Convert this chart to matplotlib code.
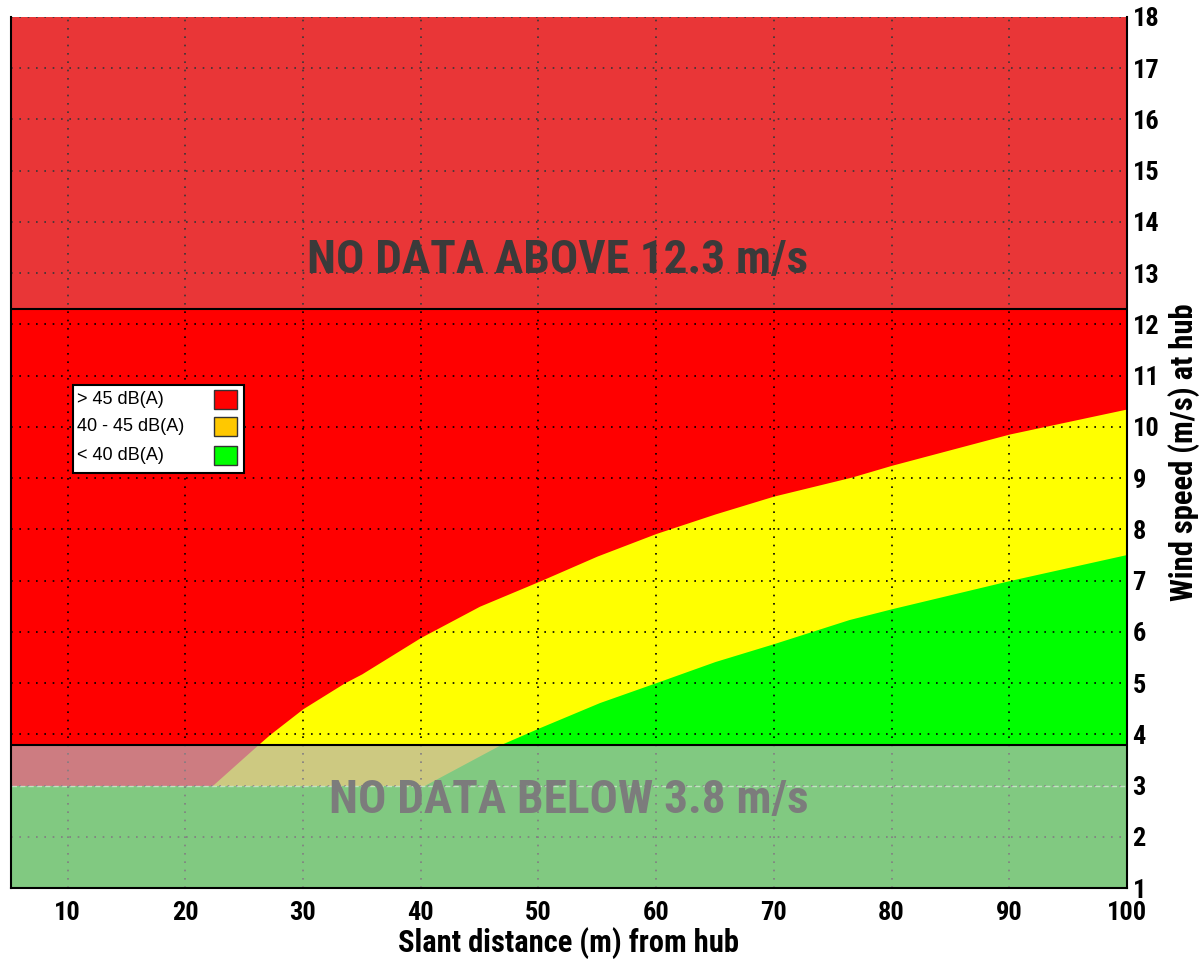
import matplotlib
matplotlib.use('Agg')
import matplotlib.pyplot as plt
from matplotlib import font_manager
from matplotlib.patches import Rectangle

# distance (m) where the > 45 dB(A) zone gives way to 40-45 dB(A), per wind speed
loud_x = [22.3, 26.2, 27.2, 30.0, 33.5, 35.0, 40.0, 45.0, 50.2, 55.0, 60.0, 65.0, 70.0, 76.6, 80.0, 90.0, 100.0]
loud_y = [3.0, 3.8, 4.0, 4.5, 5.0, 5.18, 5.89, 6.5, 7.0, 7.48, 7.92, 8.3, 8.65, 9.02, 9.25, 9.86, 10.35]

# boundary between 40-45 dB(A) and < 40 dB(A)
quiet_x = [40.3, 46.8, 50.0, 55.2, 60.5, 65.0, 70.0, 76.4, 80.0, 90.0, 100.0]
quiet_y = [3.0, 3.8, 4.12, 4.62, 5.05, 5.42, 5.77, 6.24, 6.45, 7.0, 7.51]

calc_floor = 3.0       # below this wind speed everything is under 40 dB(A)
data_min = 3.8         # measured range of the turbine
data_max = 12.3

x_min, x_max = 5.2, 100
y_min, y_max = 1, 18
x_ticks = [10, 20, 30, 40, 50, 60, 70, 80, 90, 100]
y_ticks = list(range(1, 19))

legend_labels = ['> 45 dB(A)', '40 - 45 dB(A)', '< 40 dB(A)']
legend_colors = ['#ff0000', '#ffc800', '#00ff00']

installed = {f.name for f in font_manager.fontManager.ttflist}


def pick(*names):
    for n in names:
        if n in installed:
            return n
    return 'DejaVu Sans'


NARROW = pick('Liberation Sans Narrow', 'Roboto Condensed', 'Open Sans Condensed', 'DejaVu Sans')
PLAIN = pick('Liberation Sans', 'Arial', 'DejaVu Sans')

fig = plt.figure(figsize=(11.99, 9.6), dpi=100)
ax = fig.add_axes([11 / 1199, 1 - 888 / 960, 1116 / 1199, 871 / 960])

# noise zones
ax.axhspan(calc_floor, y_max, color='#ff0000', lw=0, zorder=0.1)
ax.fill_between(loud_x, calc_floor, loud_y, color='#ffff00', lw=0, zorder=0.2)
ax.fill_between(quiet_x, calc_floor, quiet_y, color='#00ff00', lw=0, zorder=0.3)
ax.axhspan(y_min, calc_floor, color='#00ff00', lw=0, zorder=0.3)

ax.set_axisbelow(True)
ax.grid(True, color='black', linestyle=(0, (1, 4)), linewidth=1.2)

# shaded bands outside the measured wind range
ax.axhspan(data_max, y_max, color='#b9b4b9', alpha=0.3, lw=0, zorder=1)
ax.axhspan(y_min, data_min, color='#b9b2b9', alpha=0.7, lw=0, zorder=1)
ax.axhline(data_max, color='black', lw=1.5, zorder=2)
ax.axhline(data_min, color='black', lw=1.5, zorder=2)
ax.axhline(calc_floor, color='white', lw=1.0, ls=(0, (4, 2)), alpha=0.5, zorder=1.5)

ax.text(51.6, 13.25, f'NO DATA ABOVE {data_max} m/s', ha='center', va='center',
        fontsize=34, fontweight='bold', family=NARROW, color='#3a3a3a', zorder=3)
ax.text(52.6, 2.71, f'NO DATA BELOW {data_min} m/s', ha='center', va='center',
        fontsize=34, fontweight='bold', family=NARROW, color='#7c7c7c', zorder=3)

ax.set_xlim(x_min, x_max)
ax.set_ylim(y_min, y_max)
ax.set_xticks(x_ticks)
ax.set_yticks(y_ticks)
ax.yaxis.tick_right()
ax.yaxis.set_label_position('right')
ax.tick_params(length=0, labelsize=19)
ax.tick_params(axis='x', pad=9)
ax.tick_params(axis='y', pad=4)
for lbl in ax.get_xticklabels() + ax.get_yticklabels():
    lbl.set_family(NARROW)
    lbl.set_fontweight('bold')

ax.set_xlabel('Slant distance (m) from hub', fontsize=22, fontweight='bold',
              family=NARROW, labelpad=2)
ax.set_ylabel('Wind speed (m/s) at hub', fontsize=22, fontweight='bold',
              family=NARROW, labelpad=6)

ax.spines['top'].set_visible(False)
for side in ['left', 'right', 'bottom']:
    ax.spines[side].set_linewidth(1.5)
    ax.spines[side].set_zorder(4)

# legend box: labels on the left, colour swatches on the right
ax.add_patch(Rectangle((0.0556, 0.4765), 0.1532, 0.101, transform=ax.transAxes,
                       facecolor='white', edgecolor='black', lw=1.5, zorder=5))
row_y = [0.5614, 0.5293, 0.4971]
for label, color, ry in zip(legend_labels, legend_colors, row_y):
    ax.text(0.0591, ry, label, transform=ax.transAxes, ha='left', va='center',
            family=PLAIN, fontsize=13, color='black', zorder=6)
    ax.add_patch(Rectangle((0.1819, ry - 0.0109), 0.0206, 0.0218, transform=ax.transAxes,
                           facecolor=color, edgecolor='#333333', lw=1, zorder=6))

fig.savefig('out.png', dpi=100)
